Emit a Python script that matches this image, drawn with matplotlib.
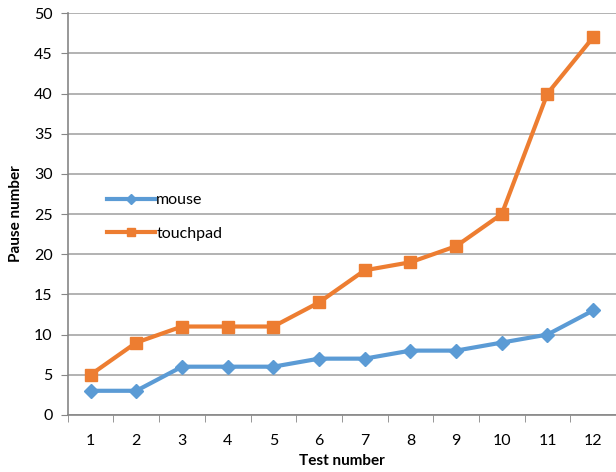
import matplotlib.pyplot as plt
import numpy as np

tests = list(range(1, 13))
mouse = [3, 3, 6, 6, 6, 7, 7, 8, 8, 9, 10, 13]
touchpad = [5, 9, 11, 11, 11, 14, 18, 19, 21, 25, 40, 47]

plt.rcParams['font.family'] = ['Lato', 'DejaVu Sans']

fig = plt.figure(figsize=(6.16, 4.72), dpi=100)
ax = fig.add_axes([0.110, 0.121, 0.89, 0.851])

ax.plot(tests, mouse, color='#5B9BD5', linewidth=3, marker='D', markersize=7,
        label='mouse', zorder=3)
ax.plot(tests, touchpad, color='#ED7D31', linewidth=3, marker='s', markersize=8,
        label='touchpad', zorder=3)

ax.set_xlim(0.5, 12.5)
ax.set_ylim(0, 50)
ax.set_yticks(np.arange(0, 51, 5))
ax.set_xticks(tests)
ax.set_xticks(np.arange(0.5, 13, 1), minor=True)
ax.tick_params(axis='x', which='major', length=0, pad=14, labelsize=11.5)
ax.tick_params(axis='x', which='minor', length=5, color='#868686', direction='out')
ax.tick_params(axis='y', length=5, color='#868686', direction='out', labelsize=11.5, pad=6)

ax.grid(axis='y', color='#A6A6A6', linewidth=1.2)
ax.set_axisbelow(True)
for s in ['top', 'right']:
    ax.spines[s].set_visible(False)
for s in ['left', 'bottom']:
    ax.spines[s].set_color('#868686')
    ax.spines[s].set_linewidth(1.2)

ax.set_xlabel('Test number', fontweight='bold', fontsize=11)
ax.set_ylabel('Pause number', fontweight='bold', fontsize=11, labelpad=8)

ax.legend(loc='upper left', bbox_to_anchor=(0.045, 0.588), frameon=False,
          handlelength=3, labelspacing=1.2, fontsize=11.5, handletextpad=0.1,
          markerscale=0.8)

fig.savefig('out.png', dpi=100)
